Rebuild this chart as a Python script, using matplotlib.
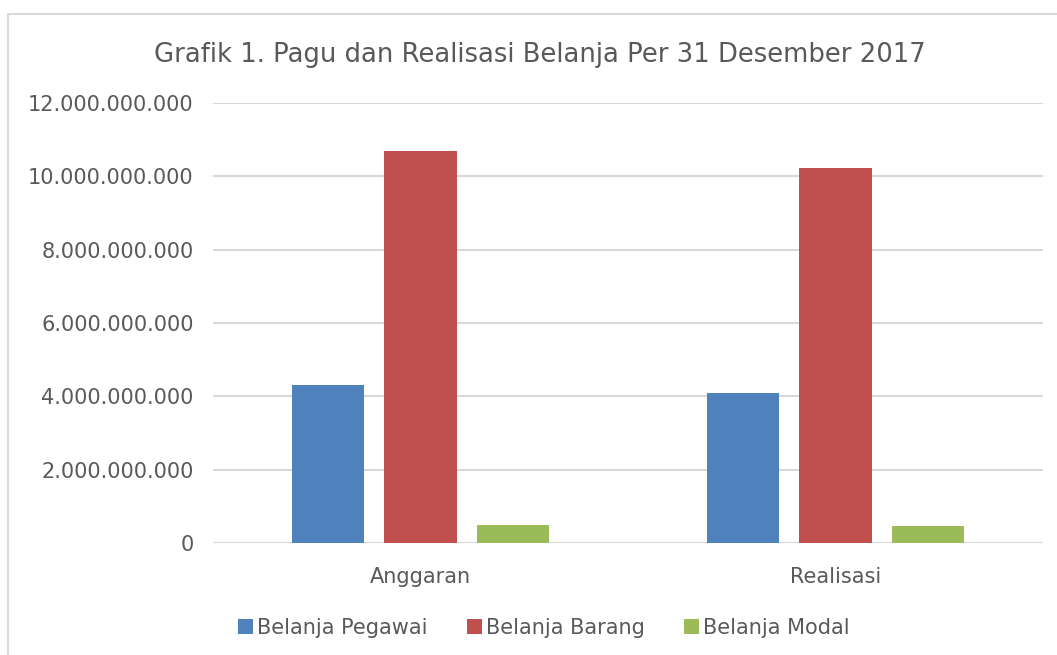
import numpy as np
import matplotlib
matplotlib.use('Agg')
import matplotlib.pyplot as plt
from matplotlib.ticker import FuncFormatter
from matplotlib.patches import Rectangle

# data
categories = ['Anggaran', 'Realisasi']
series_names = ['Belanja Pegawai', 'Belanja Barang', 'Belanja Modal']
pegawai = [4.31e9, 4.08e9]
barang = [10.69e9, 10.23e9]
modal = [0.49e9, 0.47e9]
colors = ['#4F81BD', '#C0504D', '#9BBB59']
y_ticks = [0, 2e9, 4e9, 6e9, 8e9, 10e9, 12e9]

text_color = '#595959'
plt.rcParams['font.family'] = ['DejaVu Sans']

fig = plt.figure(figsize=(10.57, 6.55), dpi=100)
ax = fig.add_axes([213 / 1057, 1 - 543 / 655, 830 / 1057, 440 / 655])

# chart frame (cut off at right and bottom, as in the reference)
fig.patches.append(Rectangle((8 / 1057, -0.1), 1.2, 1 - 14 / 655 + 0.1,
                             transform=fig.transFigure, fill=False,
                             edgecolor='#D9D9D9', linewidth=1.5))

x = np.arange(len(categories))
bar_w = 72 / 414
step = 92 / 414
for i, (vals, name) in enumerate(zip([pegawai, barang, modal], series_names)):
    ax.bar(x + (i - 1) * step, vals, width=bar_w, color=colors[i],
           label=name, zorder=3)

ax.set_xlim(-0.5, 1.5)
ax.set_ylim(0, 12e9)
ax.set_yticks(y_ticks)
ax.yaxis.set_major_formatter(FuncFormatter(lambda v, p: f"{int(v):,}".replace(',', '.')))
ax.set_xticks(x)
ax.set_xticklabels(categories)
ax.grid(axis='y', color='#D9D9D9', linewidth=1.5, zorder=0)
for s in ax.spines.values():
    s.set_visible(False)
ax.tick_params(axis='both', length=0, labelsize=15, colors=text_color)
ax.tick_params(axis='y', pad=14)
ax.tick_params(axis='x', pad=17)

fig.text(540 / 1057, 1 - 55 / 655, 'Grafik 1. Pagu dan Realisasi Belanja Per 31 Desember 2017',
         ha='center', va='center', fontsize=18.6, color=text_color)

handles, labels = ax.get_legend_handles_labels()
fig.legend(handles, labels, loc='center', bbox_to_anchor=(544 / 1057, 1 - 628 / 655),
           ncol=3, frameon=False, fontsize=15, labelcolor=text_color,
           handlelength=0.7, handleheight=0.7, handletextpad=0.2,
           columnspacing=1.9)

fig.savefig('out.png', dpi=100)
